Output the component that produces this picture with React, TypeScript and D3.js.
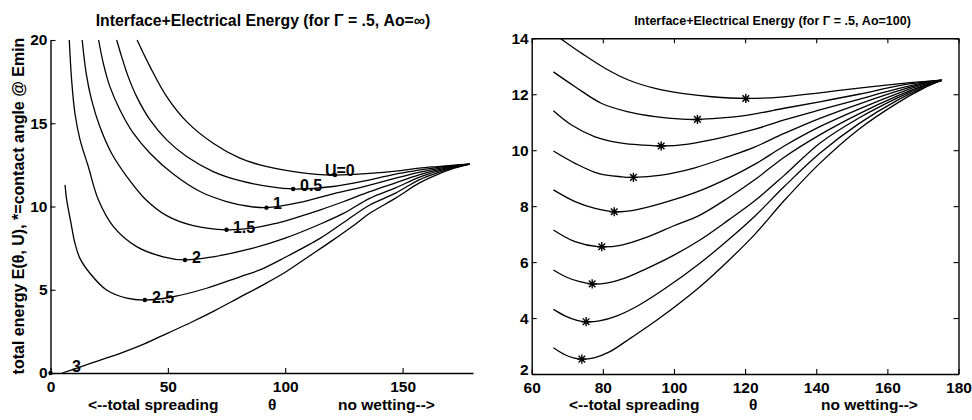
import { useEffect, useRef } from "react";
import * as d3 from "d3";

type Pt = [number, number];

// ---- left panel: Gamma = .5, Ao = infinity. [theta (deg), E]
const leftU0: Pt[] = [[36.9, 20], [42.4, 18.4], [49.5, 16.6], [58, 15.1], [69.3, 13.8], [80.7, 12.9], [89.2, 12.5], [99.1, 12.2], [113.4, 11.93], [121.2, 11.89], [136, 11.99], [147, 12.12], [157, 12.3], [165, 12.4], [172, 12.48], [178.5, 12.55]];
const leftU05: Pt[] = [[28.2, 20], [30.3, 19.0], [33.1, 17.8], [36.7, 16.6], [42.4, 15.2], [49.5, 14.0], [58, 13.0], [69.3, 12.1], [80.7, 11.55], [93.5, 11.19], [103.4, 11.05], [120.4, 11.2], [136, 11.6], [147, 11.95], [157, 12.18], [165, 12.35], [172, 12.46], [178.5, 12.55]];
const leftU1: Pt[] = [[20.5, 20], [22.5, 18.6], [25.3, 17.2], [29.6, 15.8], [35.3, 14.4], [42.4, 13.2], [52.3, 11.95], [63.7, 10.9], [75, 10.3], [85, 10.0], [92, 9.93], [106.3, 10.25], [120, 10.75], [127.6, 11.0], [136, 11.29], [147, 11.7], [157, 12.05], [165, 12.28], [172, 12.43], [178.5, 12.55]];
const leftU15: Pt[] = [[13.5, 20], [15.2, 18], [17.5, 16.4], [21, 14.8], [26, 13.2], [32.5, 11.8], [40, 10.5], [49.5, 9.45], [60.8, 8.85], [75, 8.6], [85, 8.68], [95, 8.95], [105, 9.35], [115, 9.8], [125, 10.3], [136, 10.89], [147, 11.42], [157, 11.9], [165, 12.2], [172, 12.4], [178.5, 12.55]];
const leftU2: Pt[] = [[8.0, 20], [9.0, 17.6], [10.4, 15.6], [12.6, 14.0], [16.1, 12.4], [20.4, 10.4], [26.8, 8.79], [36.7, 7.59], [48, 6.98], [57.3, 6.79], [69.3, 6.98], [85, 7.45], [100, 8.1], [115, 8.95], [125, 9.6], [136, 10.49], [147, 11.12], [157, 11.75], [165, 12.12], [172, 12.37], [178.5, 12.55]];
const leftU25: Pt[] = [[6.2, 11.3], [6.9, 10.4], [8.6, 9.1], [10.4, 7.8], [12.5, 6.9], [16.8, 5.99], [23.9, 4.98], [32.5, 4.49], [40.2, 4.38], [52.3, 4.58], [66.5, 5.09], [80.7, 5.78], [89.2, 6.19], [100, 6.95], [115, 8.1], [125, 9.05], [136, 10.09], [147, 10.8], [157, 11.6], [165, 12.03], [172, 12.33], [178.5, 12.55]];
const leftU3: Pt[] = [[5, 0.0], [11, 0.28], [20, 0.72], [30, 1.2], [40, 1.75], [50, 2.4], [60, 3.05], [70, 3.75], [80, 4.5], [90, 5.25], [100, 6.05], [110, 7.0], [120, 7.95], [130, 8.95], [136, 9.59], [147, 10.5], [157, 11.4], [165, 11.93], [172, 12.3], [178.5, 12.55]];
const leftMins: Pt[] = [[121.2, 11.89], [103.4, 11.05], [92, 9.93], [75, 8.6], [57.3, 6.79], [40.2, 4.38], [0, 0]];
const leftLabels = ["U=0", "0.5", "1", "1.5", "2", "2.5", "3"];
const leftLabelAt: Pt[] = [[116.9, 11.83], [106.3, 10.93], [94.8, 9.85], [77.7, 8.41], [60.3, 6.61], [43.2, 4.2], [9.2, 0.06]];
const leftXTicks = [0, 50, 100, 150];
const leftYTicks = [0, 5, 10, 15, 20];

// ---- right panel: Gamma = .5, Ao = 100
const rightC1: Pt[] = [[66, 14.18], [68, 14.0], [74.1, 13.46], [80.6, 12.93], [87.2, 12.51], [94.7, 12.21], [102.2, 12.03], [110.6, 11.91], [120.2, 11.85], [130, 11.9], [141, 12.05], [152, 12.22], [163, 12.37], [170, 12.45], [175.3, 12.5]];
const rightC2: Pt[] = [[66.1, 12.8], [72.2, 12.27], [79.7, 11.67], [87.2, 11.37], [94.7, 11.2], [102.2, 11.11], [106.6, 11.1], [115.3, 11.17], [122.8, 11.3], [131, 11.5], [141, 11.73], [152, 12.0], [163, 12.3], [170, 12.43], [175.3, 12.5]];
const rightC3: Pt[] = [[66.1, 11.41], [71.2, 10.9], [77.8, 10.48], [85.3, 10.25], [91.9, 10.18], [96.4, 10.15], [104, 10.22], [113.4, 10.45], [122.8, 10.75], [131, 11.08], [141, 11.44], [152, 11.82], [163, 12.2], [170, 12.4], [175.3, 12.5]];
const rightC4: Pt[] = [[66.1, 9.97], [72.2, 9.53], [78.7, 9.17], [85.3, 9.05], [88.6, 9.03], [96.5, 9.11], [105.9, 9.37], [115.3, 9.77], [122.8, 10.12], [131, 10.6], [141, 11.14], [152, 11.65], [163, 12.12], [170, 12.38], [175.3, 12.5]];
const rightC5: Pt[] = [[66.1, 8.58], [72.2, 8.16], [77.8, 7.92], [83.2, 7.8], [89, 7.86], [96.5, 8.1], [105.9, 8.48], [115.3, 9.0], [122.8, 9.5], [131, 10.15], [141, 10.84], [152, 11.47], [163, 12.03], [170, 12.34], [175.3, 12.5]];
const rightC6: Pt[] = [[66.1, 7.15], [72.2, 6.73], [78.7, 6.55], [85.3, 6.61], [92.8, 6.91], [100, 7.3], [107.3, 7.68], [115.3, 8.3], [122.8, 8.95], [131, 9.75], [141, 10.55], [152, 11.3], [163, 11.95], [170, 12.3], [175.3, 12.5]];
const rightC7: Pt[] = [[66.1, 5.72], [70, 5.45], [73.5, 5.3], [77, 5.22], [81, 5.25], [86, 5.42], [92, 5.75], [100, 6.25], [107.3, 6.79], [115.3, 7.5], [122.8, 8.2], [131, 9.1], [141, 10.25], [152, 11.15], [163, 11.88], [170, 12.27], [175.3, 12.5]];
const rightC8: Pt[] = [[66.1, 4.31], [69.5, 4.07], [72.5, 3.93], [75.3, 3.87], [79, 3.9], [84, 4.08], [90, 4.45], [98, 5.1], [107.3, 5.96], [115.3, 6.8], [122.8, 7.65], [131, 8.7], [141, 9.89], [152, 10.95], [163, 11.8], [170, 12.23], [175.3, 12.5]];
const rightC9: Pt[] = [[66.1, 2.94], [69.5, 2.68], [72, 2.57], [74.1, 2.53], [77.5, 2.58], [82, 2.8], [88, 3.3], [96, 4.0], [107.3, 5.12], [115.3, 6.05], [122.8, 7.0], [131, 8.2], [141, 9.53], [152, 10.75], [163, 11.7], [170, 12.2], [175.3, 12.5]];
const rightMins: Pt[] = [[120.2, 11.85], [106.6, 11.1], [96.4, 10.15], [88.6, 9.03], [83.2, 7.8], [79.7, 6.55], [77.0, 5.22], [75.3, 3.87], [74.1, 2.53]];
const rightXTicks = [60, 80, 100, 120, 140, 160, 180];
const rightYTicks = [2, 4, 6, 8, 10, 12, 14];

const FONT = "'Liberation Sans', Arial, Helvetica, sans-serif";

type Sel = d3.Selection<SVGGElement, unknown, null, undefined>;

function styleAxis(s: Sel) {
  s.attr("font-family", FONT).attr("font-size", 15.5).attr("font-weight", "bold");
  s.selectAll(".domain").attr("stroke", "#000").attr("stroke-width", 1.4);
  s.selectAll(".tick line").attr("stroke", "#000").attr("stroke-width", 1.1);
  s.selectAll("text").attr("fill", "#000");
}

function drawCurves(g: Sel, curves: Pt[][], x: d3.ScaleLinear<number, number>, y: d3.ScaleLinear<number, number>, clip: string) {
  const line = d3.line<Pt>().x((d) => x(d[0])).y((d) => y(d[1])).curve(d3.curveCatmullRom.alpha(0.5));
  g.append("g")
    .attr("clip-path", `url(#${clip})`)
    .selectAll("path")
    .data(curves)
    .join("path")
    .attr("d", (d) => line(d))
    .attr("fill", "none")
    .attr("stroke", "#000")
    .attr("stroke-width", 1.3);
}

export default function App() {
  const ref = useRef<SVGSVGElement | null>(null);

  useEffect(() => {
    if (!ref.current) return;
    const svg = d3.select(ref.current);
    svg.selectAll("*").remove();
    const root = svg.append("g") as unknown as Sel;

    // ---------- left panel
    const xl = d3.scaleLinear().domain([0, 180]).range([50.5, 473]);
    const yl = d3.scaleLinear().domain([0, 20]).range([373, 40]);

    const defs = root.append("defs");
    defs.append("clipPath").attr("id", "clipL").append("rect")
      .attr("x", xl(0)).attr("y", yl(20) - 1).attr("width", xl(180) - xl(0) + 4).attr("height", yl(0) - yl(20) + 2);

    const xr = d3.scaleLinear().domain([60, 180]).range([531.7, 958.5]);
    const yr = d3.scaleLinear().domain([2, 14]).range([374, 38.3]);
    defs.append("clipPath").attr("id", "clipR").append("rect")
      .attr("x", xr(60)).attr("y", yr(14)).attr("width", xr(180) - xr(60)).attr("height", yr(2) - yr(14));

    root.append("g").attr("transform", `translate(0,${yl(0)})`)
      .call(d3.axisBottom(xl).tickValues(leftXTicks).tickSizeInner(-5).tickSizeOuter(0).tickPadding(8))
      .call(styleAxis);
    root.append("g").attr("transform", `translate(${xl(0)},0)`)
      .call(d3.axisLeft(yl).tickValues(leftYTicks).tickSizeInner(-5).tickSizeOuter(0).tickPadding(3))
      .call(styleAxis);

    drawCurves(root, [leftU0, leftU05, leftU1, leftU15, leftU2, leftU25, leftU3], xl, yl, "clipL");

    root.append("g").selectAll("circle").data(leftMins).join("circle")
      .attr("cx", (d) => xl(d[0])).attr("cy", (d) => yl(d[1])).attr("r", 2.2).attr("fill", "#000");

    root.append("g").attr("font-family", FONT).attr("font-size", 16).attr("font-weight", "bold")
      .selectAll("text").data(leftLabels).join("text")
      .attr("x", (_, i) => xl(leftLabelAt[i][0]))
      .attr("y", (_, i) => yl(leftLabelAt[i][1]))
      .text((d) => d);

    // ---------- right panel
    root.append("g").attr("transform", `translate(0,${yr(2)})`)
      .call(d3.axisBottom(xr).tickValues(rightXTicks).tickSizeInner(-5).tickSizeOuter(0).tickPadding(8))
      .call(styleAxis);
    const rLeft = root.append("g").attr("transform", `translate(${xr(60)},0)`)
      .call(d3.axisLeft(yr).tickValues(rightYTicks).tickSizeInner(-5).tickSizeOuter(0).tickPadding(3))
      .call(styleAxis);
    // the bottom "2" sits a little high, clear of the "60" below it
    rLeft.selectAll<SVGTextElement, number>(".tick text").filter((d) => d === 2).attr("dy", "0.02em");
    root.append("g").attr("transform", `translate(0,${yr(14)})`)
      .call(d3.axisTop(xr).tickValues(rightXTicks).tickFormat(() => "").tickSizeInner(-5).tickSizeOuter(0))
      .call(styleAxis);
    root.append("g").attr("transform", `translate(${xr(180)},0)`)
      .call(d3.axisRight(yr).tickValues(rightYTicks).tickFormat(() => "").tickSizeInner(-5).tickSizeOuter(0))
      .call(styleAxis);

    drawCurves(root, [rightC1, rightC2, rightC3, rightC4, rightC5, rightC6, rightC7, rightC8, rightC9], xr, yr, "clipR");

    // asterisk markers at the energy minima
    const r = 4.6;
    const star = `M${-r},0H${r}M0,${-r}V${r}M${-r * 0.72},${-r * 0.72}L${r * 0.72},${r * 0.72}M${-r * 0.72},${r * 0.72}L${r * 0.72},${-r * 0.72}`;
    root.append("g").selectAll("path").data(rightMins).join("path")
      .attr("transform", (d) => `translate(${xr(d[0])},${yr(d[1])})`)
      .attr("d", star).attr("fill", "none").attr("stroke", "#000").attr("stroke-width", 1.4);

    // ---------- titles and axis labels
    const txt = root.append("g").attr("font-family", FONT).attr("font-weight", "bold").attr("fill", "#000");
    txt.append("text").attr("x", 263).attr("y", 26).attr("text-anchor", "middle").attr("font-size", 15.8)
      .text("Interface+Electrical Energy (for \u0393 = .5, Ao=\u221e)");
    txt.append("text").attr("x", 772.5).attr("y", 25).attr("text-anchor", "middle").attr("font-size", 12.5)
      .text("Interface+Electrical Energy (for \u0393 = .5, Ao=100)");

    const xlab = [
      { t: "<--total spreading", x: 88 },
      { t: "\u03b8", x: 268 },
      { t: "no wetting-->", x: 338 },
      { t: "<--total spreading", x: 569 },
      { t: "\u03b8", x: 749 },
      { t: "no wetting-->", x: 821 },
    ];
    txt.selectAll("text.xl").data(xlab).join("text").attr("class", "xl")
      .attr("x", (d) => d.x).attr("y", 410).attr("font-size", 15.5).text((d) => d.t);

    txt.append("text").attr("transform", "translate(24,206) rotate(-90)").attr("text-anchor", "middle")
      .attr("font-size", 16)
      .text("total energy E(\u03b8, U),  *=contact angle @ Emin");
  }, []);

  return (
    <svg
      ref={ref}
      width={972}
      height={420}
      style={{ position: "absolute", left: 0, top: 0, background: "#fff" }}
    />
  );
}
